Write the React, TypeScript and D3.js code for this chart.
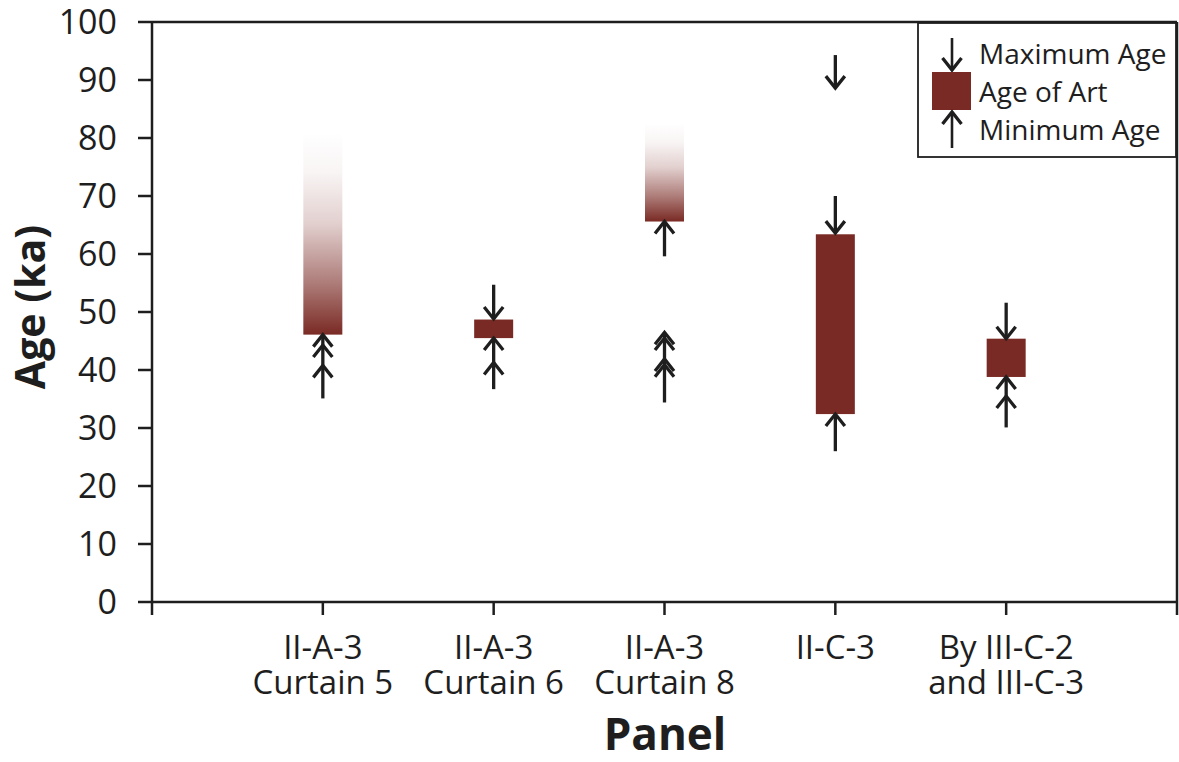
import * as d3 from "d3";

const panelLabels = [
  ["II-A-3", "Curtain 5"],
  ["II-A-3", "Curtain 6"],
  ["II-A-3", "Curtain 8"],
  ["II-C-3"],
  ["By III-C-2", "and III-C-3"],
];

// age of art: bottom and top of each bar (ka); faded bars have an open upper end
const artLow = [46.1, 45.5, 65.6, 32.4, 38.8];
const artHigh = [81, 48.7, 82.6, 63.4, 45.4];
const artFaded = [true, false, true, false, false];

// minimum ages: arrow heads sharing one shaft per group
const minPanel = [0, 1, 2, 2, 3, 4];
const minTail = [35.1, 36.7, 59.6, 34.4, 26.0, 30.1];
const minTips = [
  [46.1, 44.3, 40.8],
  [45.5, 41.3],
  [65.6],
  [46.5, 45.5, 41.9, 40.9],
  [32.4],
  [38.8, 35.5],
];

// maximum ages
const maxPanel = [1, 3, 3, 4];
const maxTail = [54.7, 94.3, 70.0, 51.6];
const maxTip = [48.8, 88.6, 63.6, 45.4];

const yTicks = d3.range(0, 101, 10);

const W = 1179;
const H = 762;
const barColor = "#7a2a24";
const ink = "#1e1e1e";
const font = "'Open Sans', sans-serif";

const x = d3.scaleLinear().domain([0, 6]).range([152, 1177]);
const y = d3.scaleLinear().domain([0, 100]).range([602, 22]);

const barW = 39;
const headW = 9.5;
const headH = 12;
const arrowStroke = 3.3;

function UpHead({ cx, cy }: { cx: number; cy: number }) {
  return (
    <polyline
      points={`${cx - headW},${cy + headH} ${cx},${cy} ${cx + headW},${cy + headH}`}
      fill="none"
      stroke={ink}
      strokeWidth={arrowStroke}
    />
  );
}

function DownHead({ cx, cy }: { cx: number; cy: number }) {
  return (
    <polyline
      points={`${cx - headW},${cy - headH} ${cx},${cy} ${cx + headW},${cy - headH}`}
      fill="none"
      stroke={ink}
      strokeWidth={arrowStroke}
    />
  );
}

export default function App() {
  const [x0, x1] = x.range();
  const [yBottom, yTop] = y.range();

  return (
    <svg
      width={W}
      height={H}
      style={{ position: "absolute", left: 0, top: 0, background: "#fff" }}
      fontFamily={font}
    >
      <defs>
        <linearGradient id="fade" x1="0" y1="1" x2="0" y2="0">
          <stop offset="0" stopColor={barColor} stopOpacity={1} />
          <stop offset="0.25" stopColor={barColor} stopOpacity={0.62} />
          <stop offset="0.55" stopColor={barColor} stopOpacity={0.22} />
          <stop offset="0.8" stopColor={barColor} stopOpacity={0.05} />
          <stop offset="1" stopColor={barColor} stopOpacity={0} />
        </linearGradient>
      </defs>

      {/* frame */}
      <line x1={x0} x2={x1} y1={yTop} y2={yTop} stroke={ink} strokeWidth={2.5} />
      <line x1={x1} x2={x1} y1={yTop} y2={yBottom + 13} stroke={ink} strokeWidth={2.5} />

      {/* y axis */}
      <line x1={x0} x2={x0} y1={yTop} y2={yBottom + 13} stroke={ink} strokeWidth={2.5} />
      {yTicks.map((t) => (
        <g key={t}>
          <line x1={x0 - 14} x2={x0} y1={y(t)} y2={y(t)} stroke={ink} strokeWidth={2.5} />
          <text
            x={x0 - 35}
            y={y(t)}
            dy="0.36em"
            textAnchor="end"
            fontSize={34}
            fill={ink}
          >
            {t}
          </text>
        </g>
      ))}
      <text
        transform={`translate(45, ${y(50) - 5}) rotate(-90)`}
        textAnchor="middle"
        fontSize={41}
        fontWeight="bold"
        fill={ink}
      >
        Age (ka)
      </text>

      {/* x axis */}
      <line x1={x0} x2={x1} y1={yBottom} y2={yBottom} stroke={ink} strokeWidth={2.5} />
      {panelLabels.map((lines, i) => (
        <g key={i}>
          <line
            x1={x(i + 1)}
            x2={x(i + 1)}
            y1={yBottom}
            y2={yBottom + 13}
            stroke={ink}
            strokeWidth={2.5}
          />
          <text textAnchor="middle" fontSize={33} fill={ink}>
            {lines.map((l, j) => (
              <tspan key={j} x={x(i + 1)} y={659 + j * 35}>
                {l}
              </tspan>
            ))}
          </text>
        </g>
      ))}
      <text x={665} y={750} textAnchor="middle" fontSize={44} fontWeight="bold" fill={ink}>
        Panel
      </text>

      {/* age of art */}
      {artLow.map((lo, i) => (
        <rect
          key={i}
          x={x(i + 1) - barW / 2}
          y={y(artHigh[i])}
          width={barW}
          height={y(lo) - y(artHigh[i])}
          fill={artFaded[i] ? "url(#fade)" : barColor}
        />
      ))}

      {/* minimum ages */}
      {minPanel.map((p, i) => {
        const cx = x(p + 1);
        const top = d3.max(minTips[i]) as number;
        return (
          <g key={i}>
            <line
              x1={cx}
              x2={cx}
              y1={y(minTail[i])}
              y2={y(top)}
              stroke={ink}
              strokeWidth={arrowStroke}
            />
            {minTips[i].map((v, j) => (
              <UpHead key={j} cx={cx} cy={y(v)} />
            ))}
          </g>
        );
      })}

      {/* maximum ages */}
      {maxPanel.map((p, i) => {
        const cx = x(p + 1);
        return (
          <g key={i}>
            <line
              x1={cx}
              x2={cx}
              y1={y(maxTail[i])}
              y2={y(maxTip[i])}
              stroke={ink}
              strokeWidth={arrowStroke}
            />
            <DownHead cx={cx} cy={y(maxTip[i])} />
          </g>
        );
      })}

      {/* legend */}
      <rect x={918} y={23} width={258} height={134} fill="#fff" stroke={ink} strokeWidth={1.8} />
      <line x1={952} x2={952} y1={38} y2={70} stroke={ink} strokeWidth={2.6} />
      <DownHead cx={952} cy={70} />
      <rect x={932} y={72} width={39} height={38} fill={barColor} />
      <line x1={952} x2={952} y1={148} y2={112} stroke={ink} strokeWidth={2.6} />
      <UpHead cx={952} cy={112} />
      <text x={979} y={64} fontSize={28} fill={ink}>
        Maximum Age
      </text>
      <text x={979} y={102} fontSize={28} fill={ink}>
        Age of Art
      </text>
      <text x={979} y={140} fontSize={28} fill={ink}>
        Minimum Age
      </text>
    </svg>
  );
}
